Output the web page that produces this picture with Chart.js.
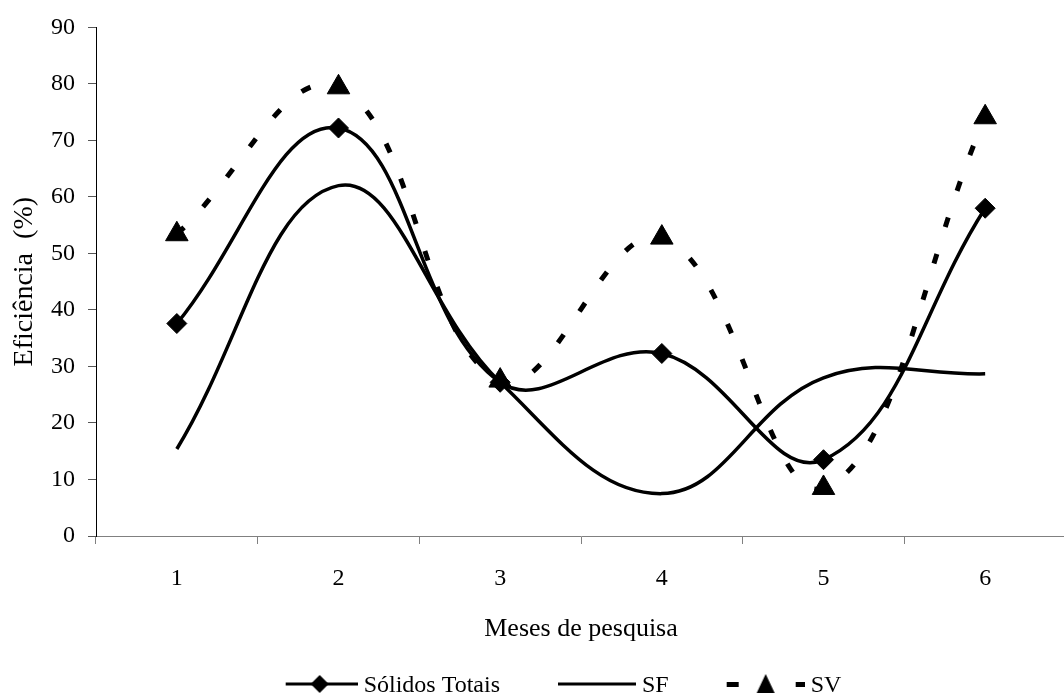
<!DOCTYPE html>
<html>
<head>
<meta charset="utf-8">
<script src="https://cdn.jsdelivr.net/npm/chart.js@4"></script>
<style>
  html, body { margin: 0; padding: 0; background: #fff; overflow: hidden; }
</style>
</head>
<body>
<canvas id="chart" width="1080" height="708"></canvas>
<script>
// Data
const months = ['1', '2', '3', '4', '5', '6'];
const solidosTotais = [37.6, 72.2, 27.2, 32.3, 13.5, 58.0];
const sf = [15.4, 62.0, 27.2, 7.5, 28.0, 28.7];
const sv = [53.4, 79.4, 27.5, 52.8, 8.5, 74.1];
const yMin = 0, yMax = 90, yStep = 10;

const serif = "'Liberation Serif', 'Times New Roman', serif";

// Legend swatches: line + marker drawn on small canvases
function swatch(draw) {
    const c = document.createElement('canvas');
    c.width = 132;
    c.height = 30;
    const ctx = c.getContext('2d');
    ctx.fillStyle = '#000';
    ctx.strokeStyle = '#000';
    draw(ctx);
    return c;
}

const swSolidos = swatch(ctx => {
    ctx.lineWidth = 3;
    ctx.beginPath();
    ctx.moveTo(60, 13);
    ctx.lineTo(132, 13);
    ctx.stroke();
    ctx.beginPath();
    ctx.moveTo(94, 4);
    ctx.lineTo(103, 13);
    ctx.lineTo(94, 22);
    ctx.lineTo(85, 13);
    ctx.closePath();
    ctx.fill();
});

const swSF = swatch(ctx => {
    ctx.lineWidth = 3;
    ctx.beginPath();
    ctx.moveTo(54, 13);
    ctx.lineTo(132, 13);
    ctx.stroke();
});

const swSV = swatch(ctx => {
    ctx.fillRect(54, 11, 12, 5);
    ctx.fillRect(123, 11, 9, 5);
    ctx.beginPath();
    ctx.moveTo(93, 3);
    ctx.lineTo(102, 22);
    ctx.lineTo(84, 22);
    ctx.closePath();
    ctx.fill();
});

const swatches = [swSolidos, swSF, swSV];

const ctx = document.getElementById('chart').getContext('2d');
new Chart(ctx, {
    type: 'line',
    data: {
        labels: months,
        datasets: [
            {
                label: 'Sólidos Totais',
                data: solidosTotais,
                borderColor: '#000',
                backgroundColor: '#000',
                borderWidth: 3.5,
                tension: 0.4,
                pointStyle: 'rectRot',
                pointRadius: 10,
                pointBorderWidth: 1,
                fill: false
            },
            {
                label: 'SF',
                data: sf,
                borderColor: '#000',
                backgroundColor: '#000',
                borderWidth: 3.5,
                tension: 0.4,
                pointRadius: 0,
                fill: false
            },
            {
                label: 'SV',
                data: sv,
                borderColor: '#000',
                backgroundColor: '#000',
                borderWidth: 5,
                borderDash: [10, 28],
                borderCapStyle: 'butt',
                tension: 0.4,
                pointStyle: 'triangle',
                pointRadius: 13,
                pointBorderWidth: 1,
                fill: false
            }
        ]
    },
    options: {
        responsive: false,
        animation: false,
        layout: { padding: { top: 27, right: 7, left: 0, bottom: 0 } },
        plugins: {
            tooltip: { enabled: false },
            legend: {
                position: 'bottom',
                labels: {
                    usePointStyle: true,
                    pointStyleWidth: 120,
                    padding: 10,
                    color: '#000',
                    font: { family: serif, size: 24 },
                    generateLabels: function(chart) {
                        return chart.data.datasets.map((ds, i) => ({
                            text: ds.label,
                            pointStyle: swatches[i],
                            fillStyle: '#000',
                            strokeStyle: '#000',
                            lineWidth: 0,
                            hidden: false,
                            datasetIndex: i
                        }));
                    }
                }
            }
        },
        scales: {
            x: {
                offset: true,
                grid: {
                    offset: true,
                    drawOnChartArea: false,
                    drawTicks: true,
                    tickLength: 8,
                    color: '#808080'
                },
                border: { color: '#808080', width: 1 },
                ticks: {
                    color: '#000',
                    padding: 20,
                    font: { family: serif, size: 24 }
                },
                title: {
                    display: true,
                    text: 'Meses de pesquisa',
                    color: '#000',
                    font: { family: serif, size: 26 },
                    padding: { top: 4, bottom: 19 }
                },
                afterFit: function(scale) { scale.height = 128; }
            },
            y: {
                min: yMin,
                max: yMax,
                grid: {
                    drawOnChartArea: false,
                    drawTicks: true,
                    tickLength: 8,
                    color: '#555'
                },
                border: { color: '#000', width: 1 },
                ticks: {
                    stepSize: yStep,
                    color: '#000',
                    padding: 13,
                    font: { family: serif, size: 24 }
                },
                title: {
                    display: true,
                    text: 'Eficiência  (%)',
                    color: '#000',
                    font: { family: serif, size: 28 },
                    padding: { top: 8, bottom: 0 }
                },
                afterFit: function(scale) { scale.width = 96; }
            }
        }
    }
});
</script>
</body>
</html>
